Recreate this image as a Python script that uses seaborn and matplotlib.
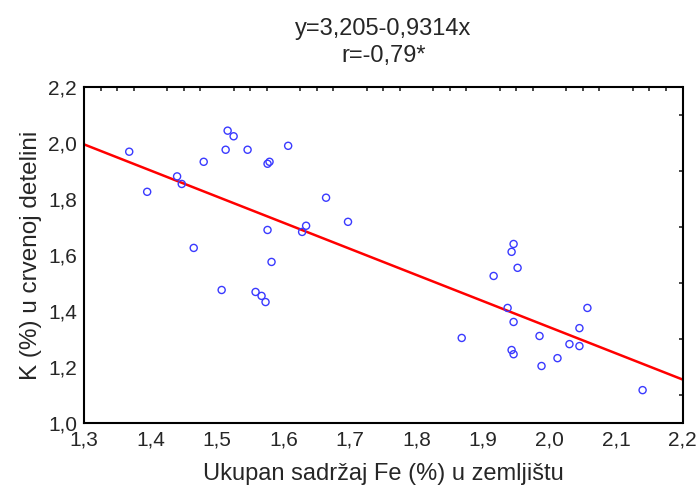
import numpy as np
import pandas as pd
import seaborn as sns
import matplotlib.pyplot as plt
from matplotlib.ticker import MultipleLocator, FuncFormatter

# ---------- data ----------
fe = [1.368, 1.395, 1.440, 1.447, 1.480, 1.465, 1.516, 1.525, 1.513, 1.546,
      1.576, 1.579, 1.607, 1.507, 1.558, 1.567, 1.573, 1.576, 1.582, 1.664,
      1.628, 1.634, 1.697, 1.868, 1.916, 1.946, 1.943, 1.952, 1.937, 1.946,
      1.943, 1.946, 1.985, 1.988, 2.012, 2.030, 2.045, 2.045, 2.057, 2.140]
k = [1.968, 1.825, 1.880, 1.853, 1.932, 1.625, 2.043, 2.023, 1.975, 1.975,
     1.925, 1.932, 1.989, 1.475, 1.468, 1.454, 1.432, 1.689, 1.575, 1.804,
     1.682, 1.704, 1.718, 1.304, 1.525, 1.639, 1.611, 1.554, 1.411, 1.361,
     1.261, 1.246, 1.311, 1.204, 1.232, 1.282, 1.275, 1.339, 1.411, 1.118]
intercept = 3.205
slope = -0.9314

df = pd.DataFrame({"Fe": fe, "K": k})

sns.set_style("white")
plt.rcParams["font.family"] = ["Liberation Sans", "DejaVu Sans"]

fig, ax = plt.subplots(figsize=(7, 4.95), dpi=100)
fig.subplots_adjust(left=0.12, right=0.975, bottom=0.145, top=0.825)

sns.scatterplot(data=df, x="Fe", y="K", ax=ax, marker="o", s=26,
                facecolor="none", edgecolor="#3a3aff", linewidth=1.0, zorder=3)

xs = np.array([1.3, 2.2])
ax.plot(xs, intercept + slope * xs, color="#ff0000", lw=1.8, zorder=2)

ax.set_xlim(1.3, 2.2)
ax.set_ylim(1.0, 2.2)
ax.xaxis.set_major_locator(MultipleLocator(0.1))
ax.yaxis.set_major_locator(MultipleLocator(0.2))
ax.xaxis.set_minor_locator(MultipleLocator(0.025))
ax.yaxis.set_minor_locator(MultipleLocator(0.1))
comma = FuncFormatter(lambda v, p: f"{v:.1f}".replace(".", ","))
ax.xaxis.set_major_formatter(comma)
ax.yaxis.set_major_formatter(comma)
ax.tick_params(which="both", direction="in", top=True, right=True,
               labelsize=15, width=1.2)
ax.tick_params(which="major", length=0, pad=5)
ax.tick_params(which="minor", length=3)
for sp in ax.spines.values():
    sp.set_color("black")
    sp.set_linewidth(1.5)

ax.set_xlabel("Ukupan sadržaj Fe (%) u zemljištu", fontsize=17, labelpad=10)
ax.set_ylabel("K (%) u crvenoj detelini", fontsize=17.5, labelpad=4)
ax.set_title("y=3,205-0,9314x\nr=-0,79*", fontsize=17, pad=18, linespacing=1.3)

plt.savefig("out.png", dpi=100)
